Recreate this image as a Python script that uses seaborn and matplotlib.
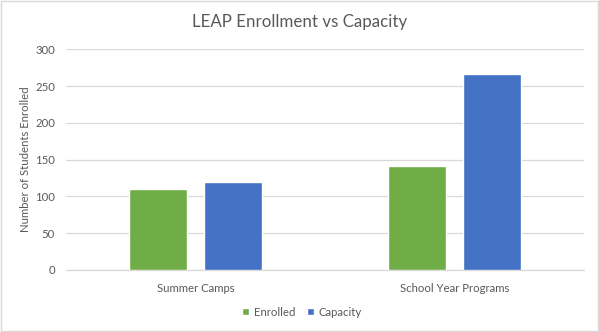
import matplotlib
matplotlib.use("Agg")
import matplotlib.pyplot as plt
import seaborn as sns
import pandas as pd
from matplotlib.patches import Rectangle

categories = ["Summer Camps", "School Year Programs"]
series = ["Enrolled", "Capacity"]
enrolled = [110, 141]
capacity = [120, 266]
yticks = [0, 50, 100, 150, 200, 250, 300]

df = pd.DataFrame({
    "Category": categories * 2,
    "Series": [series[0]] * 2 + [series[1]] * 2,
    "Value": enrolled + capacity,
})

sns.set_theme(style="white")
plt.rcParams["font.family"] = ["Lato", "DejaVu Sans"]
text_col = "#595959"
grid_col = "#d9d9d9"
fs = 8.2

fig = plt.figure(figsize=(5.99, 3.32), dpi=100)
ax = fig.add_axes([66 / 599, 1 - 270 / 332, (584 - 66) / 599, (270 - 49.3) / 332])

sns.barplot(data=df, x="Category", y="Value", hue="Series", order=categories,
            hue_order=series, palette=["#70AD47", "#4472C4"], width=0.572,
            saturation=1, ax=ax, legend=True, zorder=3)

bar_w = 0.224
for p in ax.patches:
    if p.get_width() > 0 and p.get_height() > 0:
        c = p.get_x() + p.get_width() / 2
        p.set_width(bar_w)
        p.set_x(c - bar_w / 2)

ax.set_xlim(-0.5, 1.5)
ax.set_ylim(0, 300)
ax.set_yticks(yticks)
ax.set_yticklabels([str(t) for t in yticks])
ax.yaxis.grid(True, color=grid_col, linewidth=0.9, zorder=0)
ax.set_axisbelow(True)
for s in ["top", "right", "left"]:
    ax.spines[s].set_visible(False)
ax.spines["bottom"].set_color(grid_col)
ax.spines["bottom"].set_linewidth(0.9)
ax.tick_params(axis="both", length=0, colors=text_col, labelsize=fs)
ax.tick_params(axis="y", pad=8)
ax.tick_params(axis="x", pad=9)
ax.set_xlabel("")
ax.set_ylabel("Number of Students Enrolled", color=text_col, fontsize=fs)
ax.yaxis.set_label_coords(-0.067, 0.5)

fig.text(0.5, 1 - 22 / 332, "LEAP Enrollment vs Capacity", ha="center", va="center",
         fontsize=12.2, color=text_col)

leg = ax.legend(loc="center", bbox_to_anchor=(302 / 599, 1 - 312 / 332),
                bbox_transform=fig.transFigure, ncol=2, frameon=False, fontsize=fs,
                handlelength=0.65, handleheight=0.65, handletextpad=0.4, columnspacing=1.0)
for t in leg.get_texts():
    t.set_color(text_col)

fig.patches.append(Rectangle((0.001, 0.002), 0.997, 0.995, transform=fig.transFigure,
                             fill=False, edgecolor=grid_col, linewidth=1))

fig.savefig("out.png", dpi=100, facecolor="white")
